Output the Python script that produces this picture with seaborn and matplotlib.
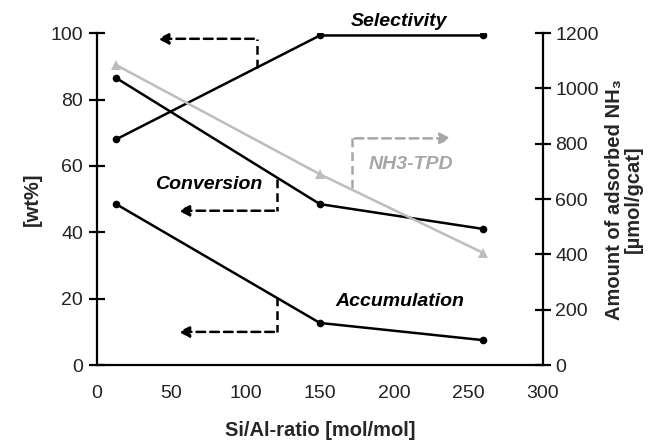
import pandas as pd
import matplotlib.pyplot as plt
import seaborn as sns

# Data
si_al = [13, 150, 260]
selectivity = [68, 99.3, 99.3]
conversion = [86.5, 48.5, 41]
accumulation = [48.5, 12.7, 7.5]
nh3_tpd = [1085, 690, 405]

df = pd.DataFrame({
    'Si/Al': si_al,
    'Selectivity': selectivity,
    'Conversion': conversion,
    'Accumulation': accumulation,
    'NH3-TPD': nh3_tpd,
})

sns.set_theme(style="white")
plt.rcParams['font.family'] = ['Liberation Sans', 'DejaVu Sans']

fig = plt.figure(figsize=(6.72, 4.42), dpi=100)
ax = fig.add_axes([0.144, 0.174, 0.664, 0.751])
ax2 = ax.twinx()

# left axis series
for col in ['Selectivity', 'Conversion', 'Accumulation']:
    sns.lineplot(data=df, x='Si/Al', y=col, ax=ax, color='black', lw=1.8,
                 marker='o', markersize=5.5, markeredgewidth=0)

# right axis series
sns.lineplot(data=df, x='Si/Al', y='NH3-TPD', ax=ax2, color='#bdbdbd', lw=1.8,
             marker='^', markersize=6.5, markeredgewidth=0)

ax.set_xlim(0, 300)
ax.set_ylim(0, 100)
ax2.set_ylim(0, 1200)
ax.set_xticks([0, 50, 100, 150, 200, 250, 300])
ax.set_yticks([0, 20, 40, 60, 80, 100])
ax2.set_yticks([0, 200, 400, 600, 800, 1000, 1200])

for a in (ax, ax2):
    a.spines['top'].set_visible(False)
    for s in a.spines.values():
        s.set_color('black')
        s.set_linewidth(1.6)
ax.spines['right'].set_visible(False)
ax2.spines['left'].set_visible(False)
ax2.spines['bottom'].set_visible(False)

ax.tick_params(axis='y', direction='inout', length=12, width=1.6, labelsize=14, pad=4, colors='black')
ax.tick_params(axis='x', direction='in', length=9, width=1.6, labelsize=14, pad=14, colors='black')
ax2.tick_params(axis='y', direction='inout', length=12, width=1.6, labelsize=14, pad=3, colors='black')
for lbl in ax.get_xticklabels() + ax.get_yticklabels() + ax2.get_yticklabels():
    lbl.set_color('#222222')

ax.set_xlabel('Si/Al-ratio [mol/mol]', fontsize=14.5, fontweight='bold', labelpad=14)
ax.set_ylabel('[wt%]', fontsize=14.5, fontweight='bold', labelpad=6)
ax2.set_ylabel('Amount of adsorbed NH₃\n[µmol/gcat]', fontsize=14.5, fontweight='bold',
               labelpad=4, linespacing=1.0)

# series labels
lab = dict(fontsize=14, fontweight='bold', fontstyle='italic', ha='center', va='center')
ax.text(203, 103.5, 'Selectivity', color='black', clip_on=False, **lab)
ax.text(75, 54.3, 'Conversion', color='black', **lab)
ax.text(204, 19.3, 'Accumulation', color='black', **lab)
ax.text(211, 60.3, 'NH3-TPD', color='#a6a6a6', **lab)

# dashed pointer arrows
dash = dict(lw=1.8, ls=(0, (3.5, 2)))
arr = dict(arrowstyle='-|>', mutation_scale=16, lw=1.8, ls=(0, (3.5, 2)))

ax.plot([107.5, 107.5], [89.5, 98.3], color='black', **dash)
ax.annotate('', xy=(39, 98.3), xytext=(107.5, 98.3),
            arrowprops=dict(color='black', **arr))

ax.plot([121, 121], [56, 46.5], color='black', **dash)
ax.annotate('', xy=(53, 46.5), xytext=(121, 46.5),
            arrowprops=dict(color='black', **arr))

ax.plot([121, 121], [20.5, 10], color='black', **dash)
ax.annotate('', xy=(53, 10), xytext=(121, 10),
            arrowprops=dict(color='black', **arr))

ax.plot([171.5, 171.5], [53.5, 68.3], color='#a6a6a6', **dash)
ax.annotate('', xy=(240, 68.3), xytext=(171.5, 68.3),
            arrowprops=dict(color='#a6a6a6', **arr))

fig.savefig('out.png', dpi=100)
